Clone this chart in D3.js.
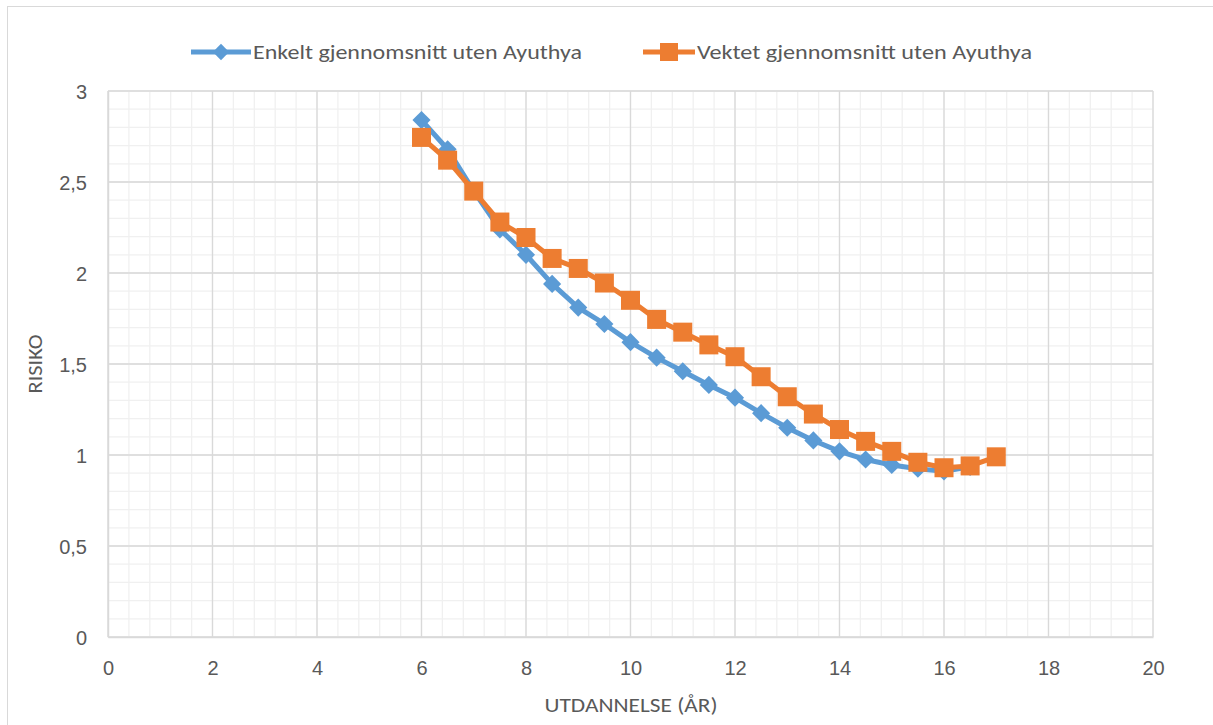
<!DOCTYPE html>
<html>
<head>
<meta charset="utf-8">
<script src="https://cdn.jsdelivr.net/npm/d3@7/dist/d3.min.js"></script>
<style>
  html, body { margin: 0; padding: 0; background: #fff; }
  svg { display: block; font-family: Carlito, Calibri, "Open Sans", "Liberation Sans", sans-serif; }
</style>
</head>
<body>
<svg id="chart" width="1213" height="725"></svg>
<script>
// Years of education (x) and risk values for the two series
const yearsSimple = [6, 6.5, 7, 7.5, 8, 8.5, 9, 9.5, 10, 10.5, 11, 11.5, 12, 12.5, 13, 13.5, 14, 14.5, 15, 15.5, 16, 16.5];
const riskSimple  = [2.84, 2.68, 2.45, 2.24, 2.10, 1.94, 1.81, 1.72, 1.62, 1.535, 1.46, 1.385, 1.315, 1.23, 1.15, 1.08, 1.02, 0.975, 0.945, 0.925, 0.91, 0.935];

const yearsWeighted = [6, 6.5, 7, 7.5, 8, 8.5, 9, 9.5, 10, 10.5, 11, 11.5, 12, 12.5, 13, 13.5, 14, 14.5, 15, 15.5, 16, 16.5, 17];
const riskWeighted  = [2.745, 2.62, 2.45, 2.28, 2.195, 2.08, 2.025, 1.945, 1.85, 1.745, 1.675, 1.605, 1.54, 1.43, 1.32, 1.225, 1.14, 1.075, 1.02, 0.96, 0.93, 0.94, 0.99];

const seriesNames = ["Enkelt gjennomsnitt uten Ayuthya", "Vektet gjennomsnitt uten Ayuthya"];
const xTicks = [0, 2, 4, 6, 8, 10, 12, 14, 16, 18, 20];
const yTicks = [0, 0.5, 1, 1.5, 2, 2.5, 3];
const xTitle = "UTDANNELSE (ÅR)";
const yTitle = "RISIKO";

const blue = "#5B9BD5", orange = "#ED7D31";
const svg = d3.select("#chart");

// outer chart frame
svg.append("rect").attr("x", 7.5).attr("y", 6.5).attr("width", 1220).attr("height", 740)
  .attr("fill", "#fff").attr("stroke", "#d9d9d9").attr("stroke-width", 1);

const plotL = 108, plotR = 1153, plotT = 91, plotB = 637;
const x = d3.scaleLinear().domain([0, 20]).range([plotL, plotR]);
const y = d3.scaleLinear().domain([0, 3]).range([plotB, plotT]);

// minor gridlines
const grid = svg.append("g");
grid.append("g").selectAll("line").data(d3.range(0, 20.001, 0.4)).join("line")
  .attr("x1", d => x(d)).attr("x2", d => x(d)).attr("y1", plotT).attr("y2", plotB)
  .attr("stroke", "#f0f0f0").attr("stroke-width", 1.3);
grid.append("g").selectAll("line").data(d3.range(0, 3.001, 0.1)).join("line")
  .attr("y1", d => y(d)).attr("y2", d => y(d)).attr("x1", plotL).attr("x2", plotR)
  .attr("stroke", "#f0f0f0").attr("stroke-width", 1.3);
// major gridlines
grid.append("g").selectAll("line").data(xTicks).join("line")
  .attr("x1", d => x(d)).attr("x2", d => x(d)).attr("y1", plotT).attr("y2", plotB)
  .attr("stroke", "#d9d9d9").attr("stroke-width", 1.3);
grid.append("g").selectAll("line").data(yTicks).join("line")
  .attr("y1", d => y(d)).attr("y2", d => y(d)).attr("x1", plotL).attr("x2", plotR)
  .attr("stroke", "#d9d9d9").attr("stroke-width", 1.3);

// axes (labels only; lines come from the grid)
const fmt = d => String(d).replace(".", ",");
const xAxis = svg.append("g").attr("transform", `translate(0,${plotB})`)
  .call(d3.axisBottom(x).tickValues(xTicks).tickFormat(fmt).tickSize(0).tickPadding(0));
xAxis.select(".domain").attr("stroke", "#d9d9d9").attr("stroke-width", 1.5);
xAxis.selectAll("text").attr("dy", null).attr("y", 38).attr("font-size", 20)
  .attr("fill", "#595959").attr("font-family", null);
const yAxis = svg.append("g").attr("transform", `translate(${plotL},0)`)
  .call(d3.axisLeft(y).tickValues(yTicks).tickFormat(fmt).tickSize(0).tickPadding(0));
yAxis.select(".domain").attr("stroke", "#d9d9d9").attr("stroke-width", 1.5);
yAxis.selectAll("text").attr("x", -21).attr("dy", "0.35em").attr("font-size", 20)
  .attr("fill", "#595959").attr("font-family", null);

// axis titles
svg.append("text").attr("x", 631).attr("y", 712).attr("text-anchor", "middle")
  .attr("font-size", 21).attr("fill", "#595959")
  .attr("textLength", 173).attr("lengthAdjust", "spacingAndGlyphs").text(xTitle);
svg.append("text").attr("transform", `translate(42,364) rotate(-90)`)
  .attr("text-anchor", "middle").attr("font-size", 21).attr("fill", "#595959")
  .attr("textLength", 59).attr("lengthAdjust", "spacingAndGlyphs").text(yTitle);

// series
const line = d3.line().x(d => x(d[0])).y(d => y(d[1]));
const dataSimple = yearsSimple.map((v, i) => [v, riskSimple[i]]);
const dataWeighted = yearsWeighted.map((v, i) => [v, riskWeighted[i]]);

svg.append("path").datum(dataSimple).attr("d", line).attr("fill", "none")
  .attr("stroke", blue).attr("stroke-width", 5).attr("stroke-linejoin", "round");
svg.append("g").selectAll("path").data(dataSimple).join("path")
  .attr("transform", d => `translate(${x(d[0])},${y(d[1])})`)
  .attr("d", d3.symbol(d3.symbolDiamond2, 210)).attr("fill", blue);

svg.append("path").datum(dataWeighted).attr("d", line).attr("fill", "none")
  .attr("stroke", orange).attr("stroke-width", 5).attr("stroke-linejoin", "round");
svg.append("g").selectAll("rect").data(dataWeighted).join("rect")
  .attr("x", d => x(d[0]) - 9.5).attr("y", d => y(d[1]) - 9.5)
  .attr("width", 19).attr("height", 19).attr("fill", orange);

// legend
const legend = [
  { name: seriesNames[0], color: blue, x0: 191, x1: 251, sym: "diamond", tlen: 329 },
  { name: seriesNames[1], color: orange, x0: 643, x1: 695, sym: "square", tlen: 335 }
];
const lg = svg.append("g");
legend.forEach(l => {
  const ly = 52;
  lg.append("line").attr("x1", l.x0).attr("x2", l.x1).attr("y1", ly).attr("y2", ly)
    .attr("stroke", l.color).attr("stroke-width", 5);
  const cx = (l.x0 + l.x1) / 2;
  if (l.sym === "diamond") {
    lg.append("path").attr("transform", `translate(${cx},${ly})`)
      .attr("d", d3.symbol(d3.symbolDiamond2, 170)).attr("fill", l.color);
  } else {
    lg.append("rect").attr("x", cx - 9).attr("y", ly - 9).attr("width", 18).attr("height", 18)
      .attr("fill", l.color);
  }
  lg.append("text").attr("x", l.x1 + 2).attr("y", ly).attr("dy", "0.35em")
    .attr("font-size", 20).attr("fill", "#595959")
    .attr("textLength", l.tlen).attr("lengthAdjust", "spacingAndGlyphs").text(l.name);
});
</script>
</body>
</html>
